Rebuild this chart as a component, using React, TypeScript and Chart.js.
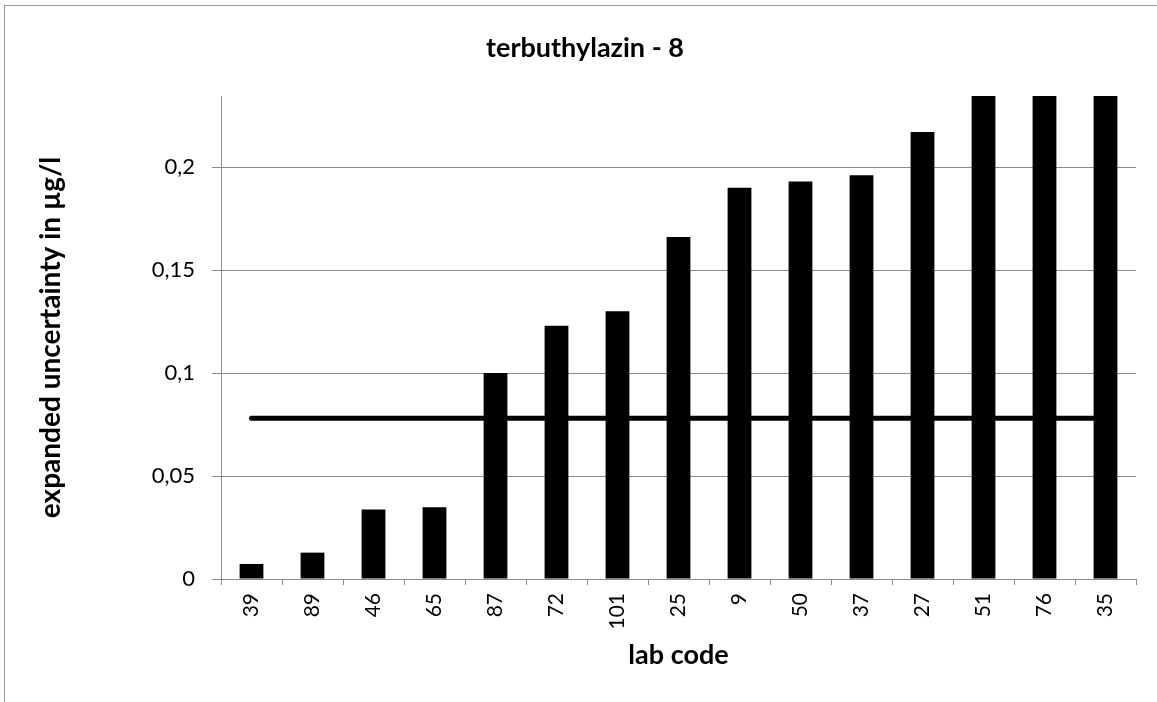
import React, { useEffect, useRef } from "react";
import { Chart, registerables } from "chart.js";

Chart.register(...registerables);

const labCodes = ["39", "89", "46", "65", "87", "72", "101", "25", "9", "50", "37", "27", "51", "76", "35"];
const uncertainty = [0.0073, 0.0128, 0.0338, 0.0348, 0.1, 0.123, 0.13, 0.166, 0.19, 0.193, 0.196, 0.217, 0.26, 0.26, 0.26];
const referenceLevel = [0.078, 0.078, 0.078, 0.078, 0.078, 0.078, 0.078, 0.078, 0.078, 0.078, 0.078, 0.078, 0.078, 0.078, 0.078];
const yMin = 0;
const yMax = 0.2345;
const yStep = 0.05;
const chartTitle = "terbuthylazin - 8";
const yTitle = "expanded uncertainty in µg/l";
const xTitle = "lab code";

const FONT = "Lato, 'Open Sans', sans-serif";

export default function App() {
  const ref = useRef<HTMLCanvasElement | null>(null);

  useEffect(() => {
    document.body.style.margin = "0";
    const canvas = ref.current;
    if (!canvas) return;
    const chart = new Chart(canvas, {
      type: "bar",
      data: {
        labels: labCodes,
        datasets: [
          {
            type: "line",
            data: referenceLevel,
            borderColor: "#000",
            borderWidth: 5,
            pointRadius: 0,
            borderCapStyle: "round",
            fill: false,
            order: 0,
          } as any,
          {
            type: "bar",
            data: uncertainty,
            backgroundColor: "#000",
            borderColor: "#000",
            borderWidth: 0,
            categoryPercentage: 1,
            barPercentage: 0.39,
            order: 1,
          },
        ],
      },
      options: {
        responsive: false,
        animation: false,
        devicePixelRatio: 1,
        layout: { padding: { left: 34, right: 21, top: 0, bottom: 0 } },
        plugins: {
          legend: { display: false },
          tooltip: { enabled: false },
          title: {
            display: true,
            text: chartTitle,
            color: "#000",
            font: { family: FONT, size: 27, weight: "bold" },
            padding: { top: 31.8, bottom: 31.8 },
          },
        },
        scales: {
          x: {
            grid: {
              display: true,
              drawOnChartArea: false,
              drawTicks: true,
              tickLength: 6,
              color: "#8c8c8c",
              offset: true,
            },
            border: { display: true, color: "#8c8c8c", width: 1 },
            ticks: {
              color: "#000",
              font: { family: FONT, size: 21 },
              minRotation: 90,
              maxRotation: 90,
              padding: 8,
              autoSkip: false,
            },
            title: {
              display: true,
              text: xTitle,
              color: "#000",
              font: { family: FONT, size: 27, weight: "bold" },
              padding: { top: 0, bottom: 30.8 },
            },
            afterFit: (scale: any) => {
              scale.height = 123;
            },
          },
          y: {
            min: yMin,
            max: yMax,
            grid: {
              color: "#8c8c8c",
              tickLength: 9,
              lineWidth: 1,
            },
            border: { display: true, color: "#8c8c8c", width: 1 },
            ticks: {
              stepSize: yStep,
              includeBounds: false,
              color: "#000",
              font: { family: FONT, size: 22 },
              padding: 17,
              callback: (v: any) => String(Number(Number(v).toFixed(3))).replace(".", ","),
            },
            title: {
              display: true,
              text: yTitle,
              color: "#000",
              font: { family: FONT, size: 28, weight: "bold" },
              padding: { top: 0, bottom: 0 },
            },
            afterFit: (scale: any) => {
              scale.width = 187;
            },
          },
        },
      },
    });
    return () => chart.destroy();
  }, []);

  return (
    <div style={{ position: "absolute", left: 0, top: 0, width: 1157, height: 702, overflow: "hidden", background: "#fff" }}>
      <div
        style={{
          position: "absolute",
          left: 4,
          top: 5,
          width: 1300,
          height: 900,
          borderLeft: "1px solid #999",
          borderTop: "1px solid #999",
        }}
      />
      <canvas ref={ref} width={1157} height={702} style={{ position: "absolute", left: 0, top: 0 }} />
    </div>
  );
}
